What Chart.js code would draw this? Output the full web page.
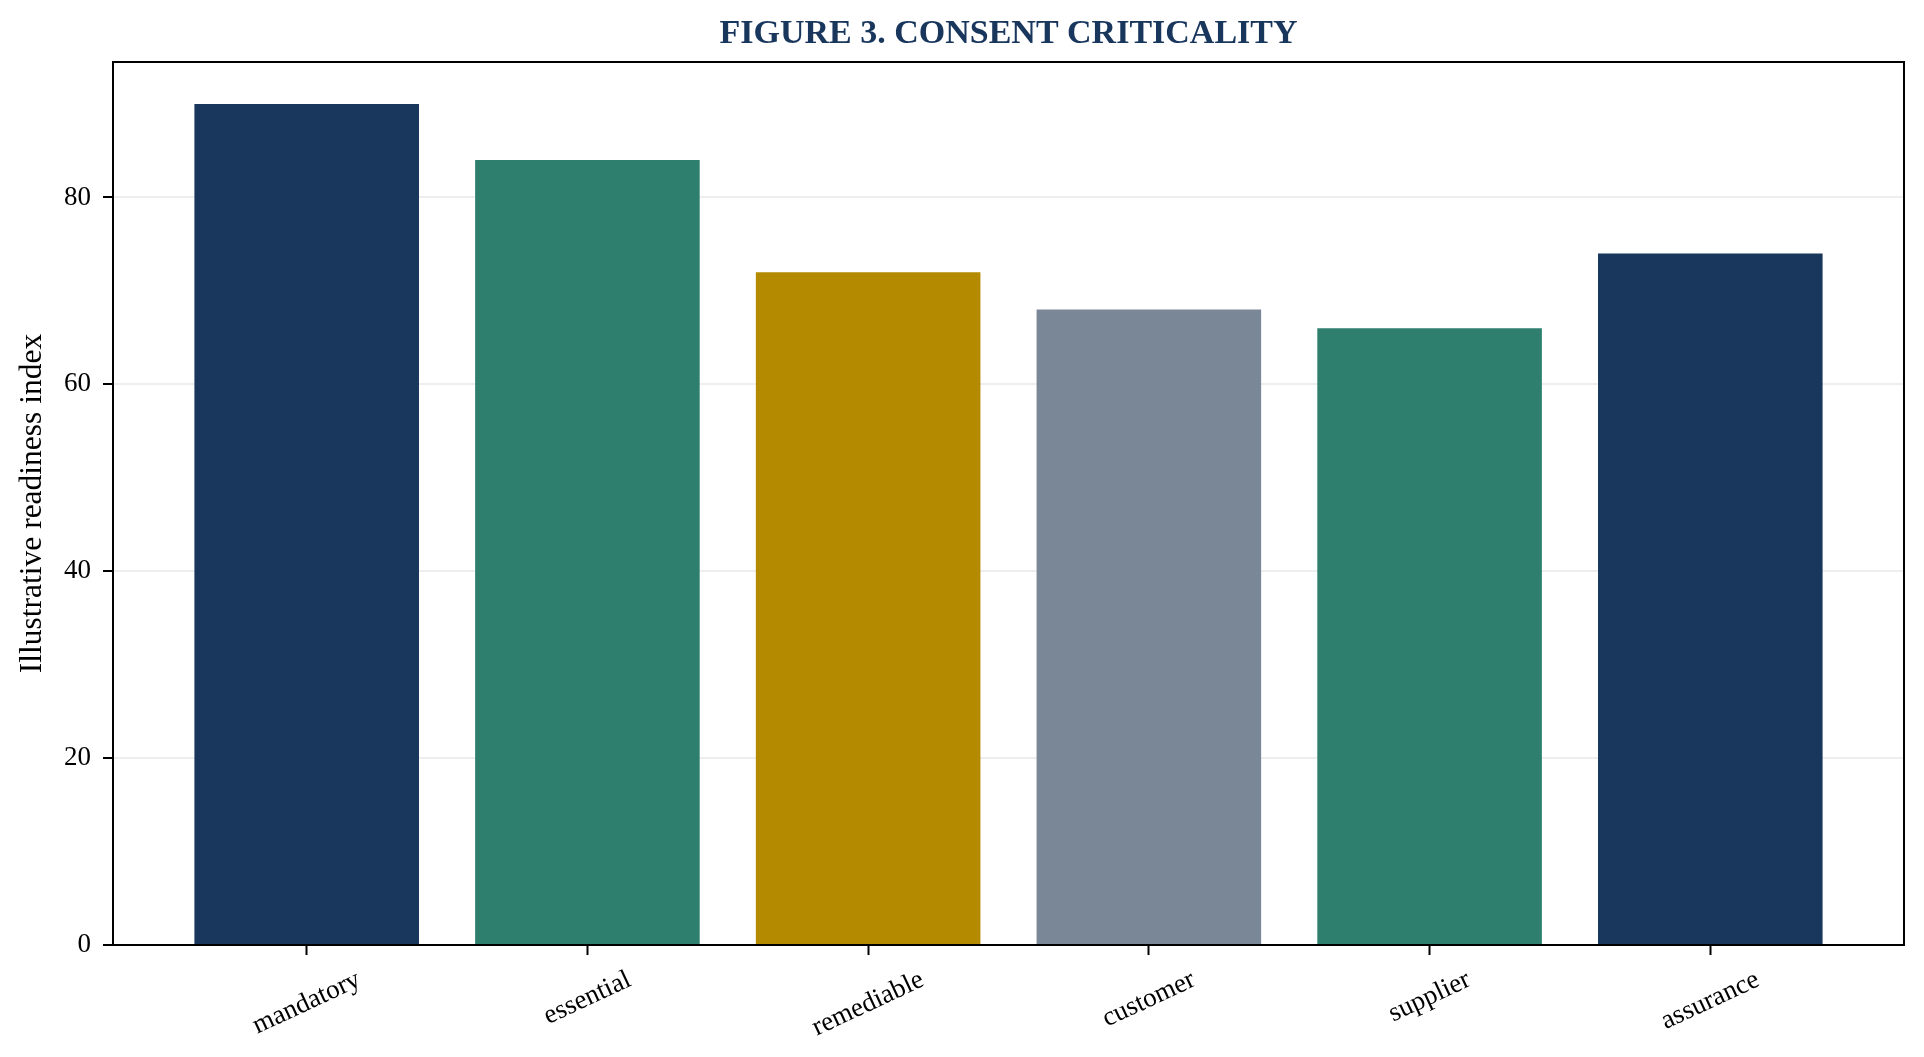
<!DOCTYPE html>
<html>
<head>
<meta charset="utf-8">
<title>Figure 3. Consent criticality</title>
<script src="https://cdn.jsdelivr.net/npm/chart.js@4.4.1/dist/chart.umd.min.js"></script>
<style>
  html, body { margin: 0; padding: 0; background: #fff; }
  #wrap { width: 1924px; height: 1057px; position: relative; }
</style>
</head>
<body>
<div id="wrap"><canvas id="chart"></canvas></div>
<script>
// chart data
const categories = ['mandatory', 'essential', 'remediable', 'customer', 'supplier', 'assurance'];
const readiness = [90, 84, 72, 68, 66, 74];
const yTickValues = [0, 20, 40, 60, 80];
const barColors = ['#19365d', '#2e7f6e', '#b38a00', '#7a8797', '#2e7f6e', '#19365d'];

const SERIF = '"Liberation Serif", "Times New Roman", serif';
const BAR_FRACTION = 0.8;
const span = (categories.length - 1) + BAR_FRACTION;
const xMin = -BAR_FRACTION / 2 - span * 0.05;
const xMax = categories.length - 1 + BAR_FRACTION / 2 + span * 0.05;
const yMax = Math.max(...readiness) * 1.05;

// title centred over the plot area rather than the canvas
const plotTitle = {
  id: 'plotTitle',
  afterDraw(chart) {
    const a = chart.chartArea;
    const ctx = chart.ctx;
    ctx.save();
    ctx.font = 'bold 34px ' + SERIF;
    ctx.fillStyle = '#19365d';
    ctx.textAlign = 'center';
    ctx.textBaseline = 'alphabetic';
    ctx.fillText('FIGURE 3. CONSENT CRITICALITY', (a.left + a.right) / 2, 43);
    ctx.restore();
  }
};

// rotated category labels, centred under each tick
const categoryLabels = {
  id: 'categoryLabels',
  afterDraw(chart) {
    const ctx = chart.ctx;
    const xs = chart.scales.x;
    const angle = 25 * Math.PI / 180;
    ctx.save();
    ctx.font = '27px ' + SERIF;
    ctx.fillStyle = '#000';
    ctx.textAlign = 'center';
    ctx.textBaseline = 'middle';
    categories.forEach((label, i) => {
      const px = xs.getPixelForValue(i);
      const w = ctx.measureText(label).width;
      const boxH = w * Math.sin(angle) + 30 * Math.cos(angle);
      const cy = xs.top + 20 + boxH / 2;
      ctx.save();
      ctx.translate(px, cy);
      ctx.rotate(-angle);
      ctx.fillText(label, 0, 0);
      ctx.restore();
    });
    ctx.restore();
  }
};

// black frame round the plot area
const frame = {
  id: 'frame',
  afterDraw(chart) {
    const a = chart.chartArea;
    const ctx = chart.ctx;
    ctx.save();
    ctx.strokeStyle = '#000';
    ctx.lineWidth = 2;
    ctx.strokeRect(a.left, a.top, a.right - a.left, a.bottom - a.top);
    ctx.restore();
  }
};

new Chart(document.getElementById('chart'), {
  type: 'bar',
  data: {
    datasets: [{
      data: readiness.map((v, i) => ({ x: i, y: v })),
      backgroundColor: barColors,
      borderWidth: 0,
      barPercentage: BAR_FRACTION,
      categoryPercentage: 1
    }]
  },
  options: {
    responsive: true,
    maintainAspectRatio: false,
    animation: false,
    layout: { padding: { left: 0, right: 20, top: 62, bottom: 0 } },
    plugins: {
      legend: { display: false },
      tooltip: { enabled: false },
      title: { display: false }
    },
    scales: {
      x: {
        type: 'linear',
        min: xMin,
        max: xMax,
        offset: false,
        afterBuildTicks: axis => { axis.ticks = categories.map((_, i) => ({ value: i })); },
        afterFit: axis => { axis.height = 112; },
        border: { display: false },
        grid: { offset: false, drawOnChartArea: false, drawTicks: true, tickLength: 10, tickColor: '#000', tickWidth: 2 },
        ticks: { display: false }
      },
      y: {
        min: 0,
        max: yMax,
        z: 1,
        afterBuildTicks: axis => { axis.ticks = yTickValues.map(v => ({ value: v })); },
        afterFit: axis => { axis.width = 113; },
        border: { display: false },
        grid: {
          color: 'rgba(176,176,176,0.22)',
          lineWidth: 2,
          tickLength: 10,
          tickColor: '#000',
          tickWidth: 2
        },
        ticks: {
          color: '#000',
          padding: 12,
          font: { family: SERIF, size: 27 }
        },
        title: {
          display: true,
          text: 'Illustrative readiness index',
          color: '#000',
          font: { family: SERIF, size: 31.5 },
          padding: { top: 14, bottom: 0 }
        }
      }
    }
  },
  plugins: [categoryLabels, frame, plotTitle]
});
</script>
</body>
</html>
